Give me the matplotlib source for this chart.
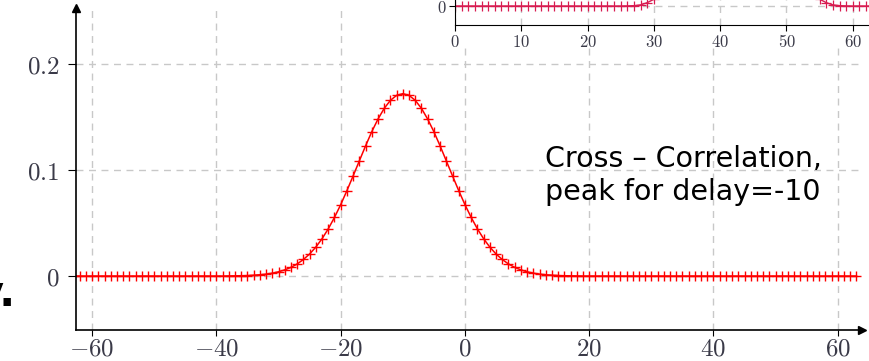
import numpy as np
import matplotlib.pyplot as plt
from matplotlib.patches import Rectangle

# main cross-correlation, lag -63 .. 63
lags = list(range(-63, 64))
xcorr_core = [0.0001, 0.0002, 0.0003, 0.0005, 0.0008, 0.0012, 0.0018, 0.0027, 0.0040,
              0.0058, 0.0082, 0.0114, 0.0156, 0.0208, 0.0273, 0.0352, 0.0445, 0.0553,
              0.0673, 0.0805, 0.0944, 0.1086, 0.1227, 0.1361, 0.1480, 0.1581, 0.1657,
              0.1704, 0.1720, 0.1704, 0.1657, 0.1581, 0.1480, 0.1361, 0.1227, 0.1086,
              0.0944, 0.0805, 0.0673, 0.0553, 0.0445, 0.0352, 0.0273, 0.0208, 0.0156,
              0.0114, 0.0082, 0.0058, 0.0040, 0.0027, 0.0018, 0.0012, 0.0008, 0.0005,
              0.0003, 0.0002, 0.0001]
# core covers lags -38 .. 18
xcorr = [0.0] * 25 + xcorr_core + [0.0] * 45

# inset signal, n = 0 .. 63 (only the base is visible)
n_inset = list(range(0, 64))
sig_core = [0.001, 0.003, 0.01, 0.03, 0.06, 0.11, 0.18, 0.27, 0.38, 0.5, 0.62,
            0.73, 0.83, 0.91, 0.96, 0.99, 1.0, 1.0, 0.99, 0.96, 0.91, 0.83, 0.73,
            0.62, 0.5, 0.38, 0.27, 0.18, 0.11, 0.06, 0.03, 0.01, 0.003, 0.001]
# core covers n = 26 .. 59
sig = [0.0] * 26 + sig_core + [0.0] * 4

x_ticks = [-60, -40, -20, 0, 20, 40, 60]
y_ticks = [0, 0.1, 0.2]
y_tick_labels = ['$0$', '$0.1$', '$0.2$']
inset_ticks = [0, 10, 20, 30, 40, 50, 60]

W, H = 870, 361
fig = plt.figure(figsize=(W / 100, H / 100), dpi=100)
plt.rcParams['mathtext.fontset'] = 'cm'

tick_col = '#3a3a48'
grid_kw = dict(color='#c8c8c8', linestyle=(0, (5, 4)), linewidth=1.0)


def px_box(x0, y0, x1, y1):
    # pixel box (top-left origin) -> figure fraction
    return [x0 / W, 1 - y1 / H, (x1 - x0) / W, (y1 - y0) / H]


ax = fig.add_axes(px_box(76, 8, 862, 330))
ax.plot(lags, xcorr, color='red', linewidth=1.1, marker='+', markersize=7.5,
        markeredgewidth=1.0)
ax.set_xlim(-62.6, 63.9)
ax.set_ylim(-0.0509, 0.2528)
ax.set_xticks(x_ticks)
ax.set_xticklabels([f'${v}$' for v in x_ticks])
ax.set_yticks(y_ticks)
ax.set_yticklabels(y_tick_labels)
ax.tick_params(direction='out', width=0.8, labelsize=18, labelcolor=tick_col)
ax.tick_params(axis='y', length=6, pad=6)
ax.tick_params(axis='x', length=4, pad=1)
for s in ['top', 'right']:
    ax.spines[s].set_visible(False)
for s in ['left', 'bottom']:
    ax.spines[s].set_linewidth(1.2)
ax.grid(True, **grid_kw)
ax.set_axisbelow(True)
ax.plot(1, 0, marker='>', color='black', markersize=6, transform=ax.transAxes,
        clip_on=False)
ax.plot(0, 1, marker='^', color='black', markersize=6, transform=ax.transAxes,
        clip_on=False)

fig.text(545 / W, 1 - 145 / H, 'Cross – Correlation,\npeak for delay=-10',
         fontsize=20.5, family='DejaVu Sans', va='top', ha='left',
         linespacing=1.22)

# white cover behind the inset
cover = Rectangle((432 / W, 1 - 44 / H), (W - 432) / W, 44 / H,
                  transform=fig.transFigure, facecolor='white',
                  edgecolor='none', zorder=2)
fig.patches.append(cover)

ins = fig.add_axes(px_box(455, -120, 455 + 64 * 6.63, 25), zorder=3)
ins.plot(n_inset, sig, color='#d81b50', linewidth=1.0, marker='+',
         markersize=7, markeredgewidth=0.9)
ins.set_xlim(0, 64)
ins.set_ylim(-19 / 112, 126 / 112)
ins.set_xticks(inset_ticks)
ins.set_xticklabels([f'${v}$' for v in inset_ticks])
ins.set_yticks([0])
ins.set_yticklabels(['$0$'])
ins.tick_params(direction='out', length=4, width=0.8, labelsize=12,
                labelcolor=tick_col, pad=2)
for s in ['top', 'right']:
    ins.spines[s].set_visible(False)
ins.grid(True, **grid_kw)
ins.set_axisbelow(True)

fig.text(16 / W, 1 - 306 / H, 'y.', fontsize=30, fontweight='bold',
         family='DejaVu Sans', ha='right', va='baseline')

fig.savefig('out.png', dpi=100)
